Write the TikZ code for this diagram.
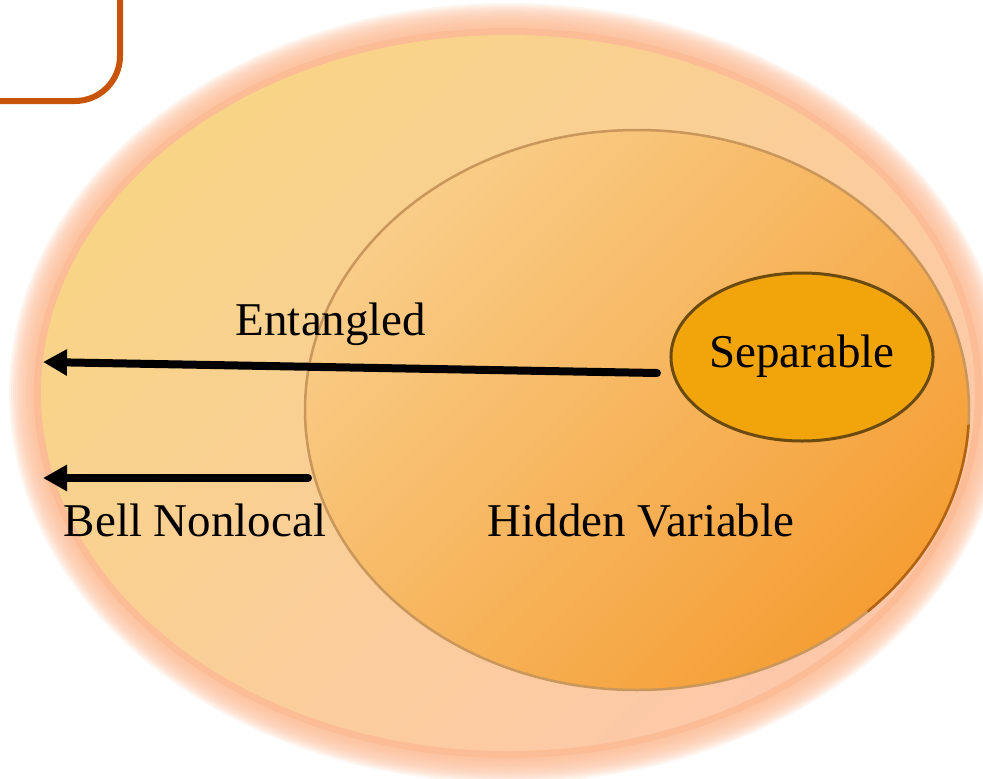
\documentclass[tikz,border=0pt]{standalone}
\usepackage{fontspec}
\setmainfont{Liberation Serif}
\usetikzlibrary{arrows.meta,shapes.geometric}
\definecolor{glow}{HTML}{FCBC96}
\definecolor{outerA}{HTML}{F8D486}
\definecolor{outerB}{HTML}{FDC8AA}
\definecolor{innerA}{HTML}{F9CD88}
\definecolor{innerB}{HTML}{F59E34}
\definecolor{innerline}{HTML}{C9965C}
\definecolor{innerdark}{HTML}{B4620E}
\definecolor{sepfill}{HTML}{F2A50B}
\definecolor{sepline}{HTML}{6A4A0F}
\definecolor{boxline}{HTML}{C8540A}
\tikzset{
  lbl/.style={font=\fontsize{47}{56}\selectfont, text=black, inner sep=0pt, anchor=base},
  bigarrow/.style={line width=8pt, line cap=round, -{Triangle[length=24pt,width=25pt]}},
}
\begin{document}
\begin{tikzpicture}[x=1pt,y=-1pt]
\useasboundingbox (0,0) rectangle (983,779);
% top-left rounded box corner
\draw[boxline, line width=6pt, rounded corners=45pt] (120,-20) -- (120,101) -- (-20,101);
% glow
\foreach \i in {0,...,12}{
  \fill[glow, opacity=0.15] (508,393) ellipse [x radius={467+32-2*\i}, y radius={358+32-2*\i}];
}
\fill[glow] (508,393) ellipse [x radius=474, y radius=365];
% outer ellipse
\shade[top color=outerA, bottom color=outerB, shading angle=45] (508,393) ellipse [x radius=467, y radius=358];
% inner ellipse
\shade[top color=innerA, bottom color=innerB, shading angle=45] (637,410) ellipse [x radius=332, y radius=280];
\draw[innerline, line width=2.5pt] (637,410) ellipse [x radius=332, y radius=280];
\draw[innerdark, line width=2.5pt] ([shift={(3:332 and 280)}]637,410) arc [start angle=3, end angle=46, x radius=332, y radius=280];
% separable
\node[ellipse, draw=sepline, line width=3pt, fill=sepfill, minimum width=260pt, minimum height=168pt, inner sep=0pt,
      font=\fontsize{47}{56}\selectfont] (sep) at (802,357) {\raisebox{0pt}[0.66em][0.2em]{Separable}};
% arrows
\coordinate (entS) at (657,373);
\coordinate (entE) at (43,362);
\coordinate (bellS) at (308,478);
\coordinate (bellE) at (43,478);
\draw[bigarrow] (entS) -- (entE);
\draw[bigarrow] (bellS) -- (bellE);
% labels
\node[lbl] (ent) at (331,335) {Entangled};
\node[lbl] (bell) at (195,536) {Bell Nonlocal};
\node[lbl] (hv) at (641,536) {Hidden Variable};
\end{tikzpicture}
\end{document}
